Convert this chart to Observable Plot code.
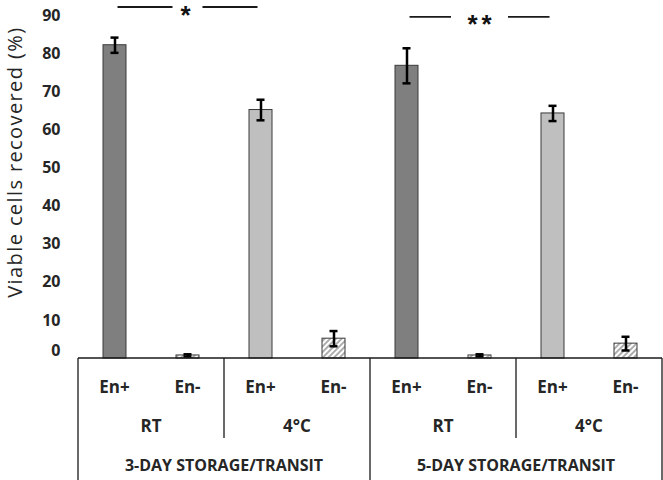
<!DOCTYPE html>
<html><head><meta charset="utf-8">
<script src="https://cdn.jsdelivr.net/npm/d3@7"></script>
<script src="https://cdn.jsdelivr.net/npm/@observablehq/plot@0.6"></script>
<style>body{margin:0;background:#fff;} svg{display:block;}</style>
</head><body><div id="chart"></div>
<script>
// ---- data ----
const storage = ["3-DAY STORAGE/TRANSIT", "5-DAY STORAGE/TRANSIT"];
const temps = ["RT", "4°C"];
const enzymes = ["En+", "En-"];
const means = [82.2, 0.8, 65.2, 5.2, 76.8, 0.8, 64.3, 3.9];
const errors = [2.0, 0.3, 2.7, 2.0, 4.6, 0.3, 2.0, 1.8];
const yTicks = [0, 10, 20, 30, 40, 50, 60, 70, 80, 90];
const sigLabels = ["*", "**"];
const sigLevels = [92.1, 89.5];
const yTitle = "Viable cells recovered (%)";

const rows = [];
let i = 0;
for (const s of storage) for (const t of temps) for (const e of enzymes) {
  rows.push({key: `${s}|${t}|${e}`, storage: s, temp: t, enzyme: e, mean: means[i], err: errors[i]});
  i++;
}
const keys = rows.map(d => d.key);
const fillOf = d => d.enzyme === "En-" ? "url(#hatch)" : (d.temp === "RT" ? "#7f7f7f" : "#bfbfbf");
const FONT = "'Open Sans', sans-serif";
const TXT = "#262626";

function table(index, scales, values, dimensions) {
  const x = scales.x, y = scales.y;
  const bw = x.bandwidth(), step = x.step();
  const left = k => x(k) - (step - bw) / 2;
  const center = k => x(k) + bw / 2;
  const {height, marginBottom} = dimensions;
  const y0 = height - marginBottom;
  const g = d3.create("svg:g").attr("font-family", FONT).attr("fill", TXT);
  const line = (x1, y1, x2, y2) => g.append("line").attr("x1", x1).attr("y1", y1).attr("x2", x2).attr("y2", y2)
    .attr("stroke", "#1a1a1a").attr("stroke-width", 1.3);
  line(left(keys[0]), y0, left(keys[keys.length - 1]) + step, y0);
  storage.forEach((s, si) => {
    const ks = keys.filter(k => k.startsWith(s + "|"));
    const gx1 = left(ks[0]), gx2 = left(ks[ks.length - 1]) + step;
    line(gx1, y0, gx1, height);
    if (si === storage.length - 1) line(gx2, y0, gx2, height);
    g.append("text").attr("x", (gx1 + gx2) / 2).attr("y", y0 + 113).attr("text-anchor", "middle")
      .attr("font-size", 16).attr("font-weight", "bold").text(s);
    temps.forEach((t, ti) => {
      const kt = ks.filter(k => k.startsWith(s + "|" + t + "|"));
      const tx1 = left(kt[0]), tx2 = left(kt[kt.length - 1]) + step;
      if (ti > 0) line(tx1, y0, tx1, y0 + 80);
      g.append("text").attr("x", (tx1 + tx2) / 2).attr("y", y0 + 74).attr("text-anchor", "middle")
        .attr("font-size", 17).attr("font-weight", "bold").text(t);
      kt.forEach(k => {
        g.append("text").attr("x", center(k)).attr("y", y0 + 35).attr("text-anchor", "middle")
          .attr("font-size", 17).attr("font-weight", "bold").text(k.split("|")[2]);
      });
    });
    // significance bracket between En+ RT and En+ 4°C
    const a = center(`${s}|${temps[0]}|${enzymes[0]}`), b = center(`${s}|${temps[1]}|${enzymes[0]}`);
    const mid = (a + b) / 2, ly = y(sigLevels[si]);
    const gap = sigLabels[si].length === 1 ? 15 : 28.5;
    line(a + 3, ly, mid - gap, ly).attr("stroke-width", 1.8);
    line(mid + gap, ly, b - 3, ly).attr("stroke-width", 1.8);
    g.append("text").attr("x", mid + (sigLabels[si].length - 1) * 2).attr("y", ly + 16.5)
      .attr("text-anchor", "middle").attr("font-family", "'Liberation Sans', sans-serif")
      .attr("font-weight", "bold").attr("font-size", 26).attr("letter-spacing", 4)
      .attr("fill", "#111").text(sigLabels[si]);
  });
  // y-axis title
  g.append("text").attr("transform", `translate(14.5,${y(51.4)}) rotate(-90)`).attr("text-anchor", "middle")
    .attr("dominant-baseline", "central").attr("font-size", 20).attr("letter-spacing", 1.4).text(yTitle);
  return g.node();
}

const plot = Plot.plot({
  width: 663,
  height: 480,
  marginLeft: 78,
  marginRight: 1,
  marginTop: 15,
  marginBottom: 122,
  style: {fontFamily: FONT, color: TXT, background: "#fff"},
  x: {domain: keys, paddingInner: 0.685, paddingOuter: 0.3425, axis: null},
  y: {domain: [0, 90], axis: null},
  color: {type: "identity"},
  marks: [
    Plot.axisY({ticks: yTicks.filter(t => t > 0), tickSize: 0, tickPadding: 18, fontSize: 16, fontWeight: "bold", label: null, fill: TXT}),
    Plot.axisY({ticks: yTicks.filter(t => t === 0), tickSize: 0, tickPadding: 18, fontSize: 16, fontWeight: "bold", label: null, fill: TXT, dy: -8}),
    Plot.barY(rows, {x: "key", y: "mean", fill: fillOf, stroke: "#3a3a3a", strokeWidth: 1}),
    Plot.ruleX(rows, {x: "key", y1: d => d.mean - d.err, y2: d => d.mean + d.err, stroke: "#000", strokeWidth: 2.5}),
    Plot.tickY(rows, {x: "key", y: d => d.mean + d.err, insetLeft: 7.5, insetRight: 7.5, stroke: "#000", strokeWidth: 2.5}),
    Plot.tickY(rows, {x: "key", y: d => d.mean - d.err, insetLeft: 7.5, insetRight: 7.5, stroke: "#000", strokeWidth: 2.5}),
    table
  ]
});

d3.select(plot).insert("defs", ":first-child").html(
  `<pattern id="hatch" width="4" height="4" patternUnits="userSpaceOnUse" patternTransform="rotate(45)">
     <rect width="4" height="4" fill="#fff"></rect>
     <line x1="1" y1="0" x2="1" y2="4" stroke="#8a8a8a" stroke-width="1.4"></line>
   </pattern>`);
document.getElementById("chart").appendChild(plot);
</script>
</body></html>
